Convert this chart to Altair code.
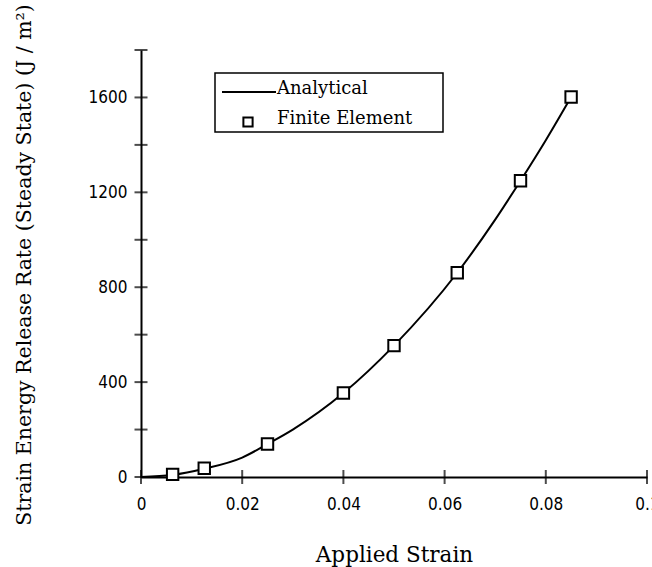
import altair as alt
import pandas as pd

# Finite element results (markers)
fe_strain = [0.00625, 0.0125, 0.025, 0.04, 0.05, 0.0625, 0.075, 0.085]
fe_G = [11, 37, 139, 354, 554, 861, 1249, 1602]

# Analytical curve
an_strain = [0.0, 0.00625, 0.0125, 0.02, 0.025, 0.03, 0.04, 0.05, 0.0625, 0.07, 0.075, 0.08, 0.085]
an_G = [0, 9, 35, 82, 139, 200, 354, 554, 861, 1085, 1249, 1420, 1602]

y_tick_vals = [0, 200, 400, 600, 800, 1000, 1200, 1400, 1600, 1800]
y_label_vals = [0, 400, 800, 1200, 1600]
x_tick_vals = [0, 0.02, 0.04, 0.06, 0.08, 0.1]

legend_labels = ["Analytical", "Finite Element"]

W, H = 506, 427
SERIF = "DejaVu Serif"
SANS = "Liberation Sans Narrow, DejaVu Sans Condensed, sans-serif"

fe = pd.DataFrame({"strain": fe_strain, "G": fe_G})
an = pd.DataFrame({"strain": an_strain, "G": an_G})
yt = pd.DataFrame({"G": y_tick_vals})
xt = pd.DataFrame({"strain": x_tick_vals})
one = pd.DataFrame({"k": [0]})

xscale = alt.Scale(domain=[0, 0.1], nice=False, zero=False)
yscale = alt.Scale(domain=[0, 1800], nice=False)

xaxis = alt.Axis(
    title="Applied Strain", values=x_tick_vals, format="~g", ticks=False,
    grid=False, domainColor="black", domainWidth=2,
    labelFont=SANS, labelFontSize=17, labelColor="black", labelPadding=19,
    labelFlush=False,
    titleFont=SERIF, titleFontSize=21.5, titleFontWeight="normal", titleColor="black",
    titleY=84, titleBaseline="alphabetic",
)
yaxis = alt.Axis(
    title="Strain Energy Release Rate (Steady State) (J / m²)", values=y_label_vals,
    format="d",
    ticks=False, grid=False, domainColor="black", domainWidth=2,
    labelFont=SANS, labelFontSize=17, labelColor="black", labelPadding=14,
    titleFont=SERIF, titleFontSize=20.5, titleFontWeight="normal", titleColor="black",
    titleAngle=-90, titleX=-117, titleY=H / 2 + 1, titleAlign="center", titleBaseline="middle",
)

line = alt.Chart(an).mark_line(color="black", strokeWidth=2, interpolate="monotone").encode(
    x=alt.X("strain:Q", scale=xscale, axis=xaxis),
    y=alt.Y("G:Q", scale=yscale, axis=yaxis),
)
pts = alt.Chart(fe).mark_point(shape="square", size=130, filled=True, fill="white",
                               stroke="black", strokeWidth=2, opacity=1).encode(
    x=alt.X("strain:Q", scale=xscale),
    y=alt.Y("G:Q", scale=yscale),
)
yticks = alt.Chart(yt).mark_tick(orient="horizontal", size=13, thickness=2, color="black").encode(
    y=alt.Y("G:Q", scale=yscale), x=alt.value(0)
)
xticks = alt.Chart(xt).mark_tick(orient="vertical", size=14, thickness=2, color="black").encode(
    x=alt.X("strain:Q", scale=xscale), y=alt.value(H)
)

# legend box
lbox = alt.Chart(one).mark_rect(fill="white", stroke="black", strokeWidth=1.5).encode(
    x=alt.value(74), x2=alt.value(302), y=alt.value(23), y2=alt.value(82)
)
lline = alt.Chart(one).mark_rule(color="black", strokeWidth=2).encode(
    x=alt.value(81), x2=alt.value(135), y=alt.value(42)
)
lsq = alt.Chart(one).mark_point(shape="square", size=85, filled=True, fill="white",
                                stroke="black", strokeWidth=2, opacity=1).encode(
    x=alt.value(107), y=alt.value(72)
)
ltxt1 = alt.Chart(one).mark_text(align="left", baseline="middle", font=SERIF, fontSize=18,
                                 color="black").encode(
    x=alt.value(136), y=alt.value(39), text=alt.value(legend_labels[0])
)
ltxt2 = alt.Chart(one).mark_text(align="left", baseline="middle", font=SERIF, fontSize=18,
                                 color="black").encode(
    x=alt.value(136), y=alt.value(69), text=alt.value(legend_labels[1])
)

chart = alt.layer(line, pts, yticks, xticks, lbox, lline, lsq, ltxt1, ltxt2).properties(
    width=W, height=H,
    autosize=alt.AutoSizeParams(type="none"),
    padding={"left": 141, "top": 50, "right": 5, "bottom": 90},
    background="white",
).configure_view(stroke=None)

chart.save("out.html", embed_options={"renderer": "svg", "actions": False})
